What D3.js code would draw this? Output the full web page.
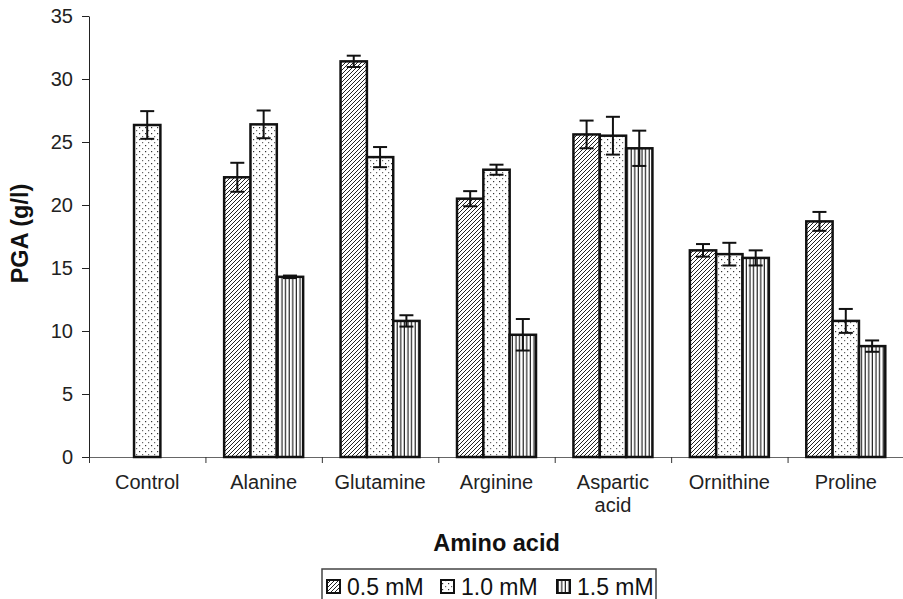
<!DOCTYPE html>
<html>
<head>
<meta charset="utf-8">
<script src="https://cdn.jsdelivr.net/npm/d3@7"></script>
<style>
  body { margin: 0; background: #fff; }
  svg { display: block; font-family: "Liberation Sans", Arial, sans-serif; }
</style>
</head>
<body>
<svg width="903" height="599"></svg>
<script>
// chart data
var categories = ['Control', 'Alanine', 'Glutamine', 'Arginine', 'Aspartic acid', 'Ornithine', 'Proline'];
var series = ['0.5 mM', '1.0 mM', '1.5 mM'];
var mean05 = [null, 22.2, 31.4, 20.5, 25.6, 16.4, 18.7];
var err05 = [null, 1.15, 0.45, 0.6, 1.1, 0.5, 0.75];
var mean10 = [26.35, 26.4, 23.8, 22.8, 25.5, 16.1, 10.8];
var err10 = [1.1, 1.1, 0.8, 0.4, 1.5, 0.9, 0.95];
var mean15 = [null, 14.3, 10.8, 9.7, 24.5, 15.8, 8.8];
var err15 = [null, 0.1, 0.45, 1.25, 1.4, 0.6, 0.45];
var yTicks = [0, 5, 10, 15, 20, 25, 30, 35];

var means = [mean05, mean10, mean15];
var errs = [err05, err10, err15];
var fills = ['url(#hatch)', 'url(#dots)', 'url(#vlines)'];

var svg = d3.select('svg');

// patterns
var defs = svg.append('defs');
var hatch = defs.append('pattern')
  .attr('id', 'hatch')
  .attr('patternUnits', 'userSpaceOnUse')
  .attr('width', 4).attr('height', 4);
hatch.append('rect').attr('width', 4).attr('height', 4).attr('fill', '#fff');
hatch.append('path')
  .attr('d', 'M-1,1 l2,-2 M0,4 l4,-4 M3,5 l2,-2')
  .attr('stroke', '#222')
  .attr('stroke-width', 1);

var dots = defs.append('pattern')
  .attr('id', 'dots')
  .attr('patternUnits', 'userSpaceOnUse')
  .attr('width', 6).attr('height', 6);
dots.append('rect').attr('width', 6).attr('height', 6).attr('fill', '#fff');
dots.append('rect').attr('x', 1).attr('y', 1).attr('width', 1.2).attr('height', 1.2).attr('fill', '#333');
dots.append('rect').attr('x', 4).attr('y', 4).attr('width', 1.2).attr('height', 1.2).attr('fill', '#666');

var vlines = defs.append('pattern')
  .attr('id', 'vlines')
  .attr('patternUnits', 'userSpaceOnUse')
  .attr('width', 3.6).attr('height', 4);
vlines.append('rect').attr('width', 3.6).attr('height', 4).attr('fill', '#fff');
vlines.append('line')
  .attr('x1', 1.2).attr('x2', 1.2).attr('y1', 0).attr('y2', 4)
  .attr('stroke', '#222')
  .attr('stroke-width', 1.2);

// scales
var plotLeft = 89, plotRight = 904, plotTop = 16, plotBottom = 457;
var x = d3.scaleBand().domain(categories).range([plotLeft, plotRight]).padding(0);
var groupW = 79;
var xSub = d3.scaleBand()
  .domain(series)
  .range([(x.bandwidth() - groupW) / 2, (x.bandwidth() + groupW) / 2])
  .padding(0);
var y = d3.scaleLinear().domain([0, 35]).range([plotBottom, plotTop]);
var xb = d3.scaleLinear().domain([0, categories.length]).range([plotLeft, plotRight]);

// y axis
var yAxis = svg.append('g')
  .attr('transform', 'translate(' + plotLeft + ',0)')
  .call(d3.axisLeft(y).tickValues(yTicks).tickSize(7).tickSizeOuter(0).tickPadding(9));
yAxis.select('.domain').attr('stroke', '#222');
yAxis.selectAll('.tick line').attr('stroke', '#222');
yAxis.selectAll('text').attr('font-size', 20).attr('fill', '#222').style('font-family', 'Liberation Sans, Arial, sans-serif');

// x axis: ticks between categories
var xAxis = svg.append('g')
  .attr('transform', 'translate(0,' + plotBottom + ')')
  .call(d3.axisBottom(xb).tickValues(d3.range(categories.length + 1)).tickFormat('').tickSize(6).tickSizeOuter(0));
xAxis.select('.domain').attr('stroke', '#666');
xAxis.selectAll('.tick line').attr('stroke', '#333');

// x labels
var xLab = svg.append('g')
  .attr('transform', 'translate(0,' + plotBottom + ')')
  .call(d3.axisBottom(x).tickSize(0).tickPadding(18));
xLab.select('.domain').remove();
xLab.selectAll('text')
  .attr('font-size', 20)
  .attr('fill', '#222')
  .style('font-family', 'Liberation Sans, Arial, sans-serif')
  .each(function(d) {
    var t = d3.select(this);
    var words = d.split(' ');
    if (words.length > 1) {
      t.text(null);
      words.forEach(function(w, i) {
        t.append('tspan').attr('x', 0).attr('dy', i === 0 ? '0.71em' : '1.15em').text(w);
      });
      t.attr('dy', null);
    }
  });

// bars
var bars = [];
series.forEach(function(s, si) {
  categories.forEach(function(c, ci) {
    if (means[si][ci] != null) {
      bars.push({ cat: c, s: s, si: si, v: means[si][ci], e: errs[si][ci] });
    }
  });
});

svg.append('g')
  .selectAll('.bar')
  .data(bars)
  .enter()
  .append('rect')
  .attr('class', 'bar')
  .attr('x', function(d) { return x(d.cat) + xSub(d.s); })
  .attr('y', function(d) { return y(d.v); })
  .attr('width', xSub.bandwidth())
  .attr('height', function(d) { return y(0) - y(d.v); })
  .attr('fill', function(d) { return fills[d.si]; })
  .attr('stroke', '#111')
  .attr('stroke-width', 2.5);

// error bars
var eb = svg.append('g')
  .selectAll('.err')
  .data(bars)
  .enter()
  .append('g')
  .attr('class', 'err')
  .attr('transform', function(d) { return 'translate(' + (x(d.cat) + xSub(d.s) + xSub.bandwidth() / 2) + ',0)'; });
eb.append('line')
  .attr('y1', function(d) { return y(d.v + d.e); })
  .attr('y2', function(d) { return y(d.v - d.e); })
  .attr('stroke', '#111').attr('stroke-width', 2);
eb.append('line')
  .attr('x1', -7).attr('x2', 7)
  .attr('y1', function(d) { return y(d.v + d.e); })
  .attr('y2', function(d) { return y(d.v + d.e); })
  .attr('stroke', '#111').attr('stroke-width', 2);
eb.append('line')
  .attr('x1', -7).attr('x2', 7)
  .attr('y1', function(d) { return y(d.v - d.e); })
  .attr('y2', function(d) { return y(d.v - d.e); })
  .attr('stroke', '#111').attr('stroke-width', 2);

// axis titles
svg.append('text')
  .attr('transform', 'translate(28,' + ((plotTop + plotBottom) / 2 - 3) + ') rotate(-90)')
  .attr('text-anchor', 'middle')
  .attr('font-size', 23.5)
  .attr('font-weight', 'bold')
  .attr('fill', '#111')
  .text('PGA (g/l)');

svg.append('text')
  .attr('x', (plotLeft + plotRight) / 2)
  .attr('y', 551)
  .attr('text-anchor', 'middle')
  .attr('font-size', 23.5)
  .attr('font-weight', 'bold')
  .attr('fill', '#111')
  .text('Amino acid');

// legend
var legend = svg.append('g');
legend.append('rect')
  .attr('x', 322).attr('y', 569)
  .attr('width', 334).attr('height', 40)
  .attr('fill', 'none')
  .attr('stroke', '#444')
  .attr('stroke-width', 1.5);
var legX = [327, 441, 557];
var item = legend.selectAll('.leg')
  .data(series)
  .enter()
  .append('g')
  .attr('class', 'leg')
  .attr('transform', function(d, i) { return 'translate(' + legX[i] + ',0)'; });
item.append('rect')
  .attr('y', 580)
  .attr('width', 13).attr('height', 13)
  .attr('fill', function(d, i) { return fills[i]; })
  .attr('stroke', '#111')
  .attr('stroke-width', 2);
item.append('text')
  .attr('x', 20)
  .attr('y', 595)
  .attr('font-size', 23)
  .attr('fill', '#111')
  .text(function(d) { return d; });
</script>
</body>
</html>
